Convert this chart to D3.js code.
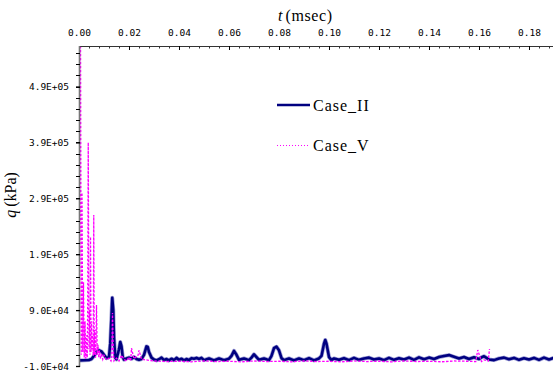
<!DOCTYPE html>
<html><head><meta charset="utf-8">
<script src="https://cdn.jsdelivr.net/npm/d3@7"></script>
<style>
html,body{margin:0;padding:0;background:#fff;}
svg{display:block;}
</style></head>
<body>
<svg id="c" width="553" height="374"></svg>
<script>
// ---- data (t in msec, q in kPa) ----
const tII = [0,0.002,0.004,0.005,0.006,0.007,0.008,0.009,0.010,0.011,0.012,0.0125,0.013,0.0133,0.0137,0.014,0.0145,0.015,0.016,0.0165,0.017,0.0175,0.018,0.019,0.020,0.021,0.022,0.023,0.024,0.025,0.026,0.027,0.0275,0.028,0.029,0.030,0.031,0.032,0.033,0.034,0.035,0.036,0.037,0.038,0.039,0.040,0.041,0.042,0.043,0.044,0.045,0.046,0.047,0.048,0.049,0.050,0.052,0.054,0.056,0.058,0.060,0.061,0.062,0.063,0.064,0.066,0.068,0.069,0.070,0.071,0.072,0.074,0.076,0.077,0.078,0.079,0.080,0.081,0.082,0.084,0.086,0.088,0.090,0.092,0.094,0.096,0.097,0.098,0.0985,0.099,0.100,0.101,0.102,0.104,0.106,0.108,0.110,0.112,0.114,0.116,0.118,0.120,0.122,0.124,0.126,0.128,0.130,0.132,0.134,0.136,0.138,0.140,0.142,0.144,0.146,0.148,0.150,0.152,0.154,0.156,0.158,0.160,0.161,0.162,0.163,0.164,0.166,0.168,0.170,0.172,0.174,0.176,0.178,0.180,0.182,0.184,0.186,0.188,0.190];
const qII = [0,300,800,2500,8000,15000,18000,16000,10000,4000,6000,30000,80000,112000,90000,40000,5000,2000,20000,33000,25000,6000,1500,3500,5000,3000,6000,2500,1000,2500,10000,25000,24000,15000,5000,1500,0,2000,5000,500,2500,0,3000,500,4500,1000,3000,0,2500,500,4000,3000,4500,2500,4500,500,3500,0,3500,500,3000,8000,17000,10000,1000,3500,500,5000,11000,6000,1000,3500,500,8000,22000,24500,18000,4000,500,3500,0,3500,500,4000,0,3500,8000,30000,36500,30000,6000,500,3500,1000,4000,500,4500,1000,3500,5000,1500,3500,500,4500,1000,4000,1500,5000,1000,5500,2000,5000,2500,6000,8000,9500,6500,3500,6000,2500,5500,2500,5500,7500,4500,1500,500,3500,5000,2000,4500,1000,4000,1500,4500,1000,5000,1500,4500,2500];

const tV = [0,0.0006,0.0009,0.0012,0.0015,0.0018,0.0021,0.0024,0.0027,0.0030,0.0033,0.0035,0.0037,0.0040,0.0042,0.0044,0.0046,0.0048,0.0050,0.0052,0.0054,0.0057,0.0059,0.0061,0.0063,0.0066,0.0068,0.0070,0.0073,0.0076,0.0079,0.0082,0.0086,0.0090,0.0095,0.0100,0.0110,0.0120,0.0128,0.0131,0.0134,0.0137,0.0140,0.0150,0.0160,0.0170,0.0180,0.0190,0.0200,0.0207,0.0210,0.0220,0.0236,0.0240,0.0250,0.030,0.035,0.040,0.045,0.050,0.055,0.060,0.065,0.070,0.075,0.080,0.085,0.090,0.095,0.100,0.105,0.110,0.115,0.120,0.125,0.130,0.135,0.140,0.145,0.150,0.155,0.1587,0.1595,0.1610,0.1620,0.1637,0.1642];
const qV = [0,600000,10000,300000,15000,140000,5000,70000,3000,45000,5000,110000,390000,20000,90000,10000,221000,15000,70000,20000,45000,8000,260000,10000,55000,5000,35000,99000,10000,28000,5000,18000,3000,12000,2000,9000,1000,4000,-1000,5000,85000,20000,-1000,4000,-1000,9000,2000,-1000,6000,-1000,22000,3000,9000,18000,2000,-1000,-2000,-1500,-2500,-1000,-2000,-1500,-2500,-1000,-2000,-1500,-2500,-1000,-2000,-1500,-2500,-1000,-2000,-1500,-2500,-1000,-2000,-1500,-2500,-1000,-1500,-2000,18500,-2000,1000,-1000,20400,-2000];

const xTicks = [0,0.02,0.04,0.06,0.08,0.10,0.12,0.14,0.16,0.18];
const xTickLabels = ["0.00","0.02","0.04","0.06","0.08","0.10","0.12","0.14","0.16","0.18"];
const yTicks = [-10000,90000,190000,290000,390000,490000];
const yTickLabels = ["-1.0E+04","9.0E+04","1.9E+05","2.9E+05","3.9E+05","4.9E+05"];
const seriesNames = ["Case_II","Case_V"];

// ---- drawing ----
const svg = d3.select("#c");
const L = 79, R = 553, T = 46, B = 366;
const x = d3.scaleLinear().domain([0, 0.1896]).range([L, R]);
const y = d3.scaleLinear().domain([-10000, 562500]).range([B, T]);

svg.append("defs").append("clipPath").attr("id","clip")
  .append("rect").attr("x",L).attr("y",T).attr("width",R-L).attr("height",B-T+4);

const g = svg.append("g").attr("clip-path","url(#clip)");
const lineII = d3.line().x((d,i)=>x(tII[i])).y(d=>y(d));
const lineV = d3.line().x((d,i)=>x(tV[i])).y(d=>y(d));

g.append("path").datum(qII).attr("d",lineII)
  .attr("fill","none").attr("stroke","#5a5ab8").attr("stroke-width",4).attr("stroke-linejoin","round").attr("opacity",0.6);
g.append("path").datum(qII).attr("d",lineII)
  .attr("fill","none").attr("stroke","#000080").attr("stroke-width",2.6).attr("stroke-linejoin","round");
g.append("path").datum(qV).attr("d",lineV)
  .attr("fill","none").attr("stroke","#ff00ff").attr("stroke-width",1.3).attr("stroke-dasharray","2.5,1.5");

// x axis at top, ticks inward
const xMinor = d3.range(0, 0.1896, 0.004);
svg.append("line").attr("x1",L).attr("x2",R).attr("y1",T+0.5).attr("y2",T+0.5).attr("stroke","#333").attr("stroke-width",1);
svg.selectAll(".xmin").data(xMinor).enter().append("line")
  .attr("x1",d=>Math.round(x(d))+0.5).attr("x2",d=>Math.round(x(d))+0.5).attr("y1",T).attr("y2",T+2.5)
  .attr("stroke","#333");
const xAxis = d3.axisTop(x).tickValues(xTicks).tickSize(-4).tickFormat((d,i)=>xTickLabels[i]);
const xa = svg.append("g").attr("transform",`translate(0,${T})`).call(xAxis);
xa.select(".domain").remove();
xa.selectAll("line").attr("stroke","#000");
xa.selectAll("text").attr("font-family","'DejaVu Sans Mono', monospace").attr("font-size",9.5).attr("fill","#000").attr("y",-10).attr("dy",0);

// y axis at left, ticks outward
const yMinor = d3.range(-10000, 562500, 20000);
svg.append("line").attr("x1",L+0.5).attr("x2",L+0.5).attr("y1",T).attr("y2",B+1).attr("stroke","#777").attr("stroke-width",1.6);
svg.selectAll(".ymin").data(yMinor).enter().append("line")
  .attr("x1",L-3).attr("x2",L+1).attr("y1",d=>Math.round(y(d))+0.5).attr("y2",d=>Math.round(y(d))+0.5)
  .attr("stroke","#000");
const yAxis = d3.axisLeft(y).tickValues(yTicks).tickSize(4).tickPadding(7).tickFormat((d,i)=>yTickLabels[i]);
const ya = svg.append("g").attr("transform",`translate(${L+1},0)`).call(yAxis);
ya.select(".domain").remove();
ya.selectAll("line").attr("stroke","#000").attr("stroke-width",1.3);
ya.selectAll("text").attr("font-family","'DejaVu Sans Mono', monospace").attr("font-size",9.5).attr("fill","#000");

// axis titles
const xt = svg.append("text").attr("x",278).attr("y",21).attr("font-family","'Liberation Serif', serif").attr("font-size",16).attr("fill","#000");
xt.append("tspan").attr("font-style","italic").text("t");
xt.append("tspan").attr("dx",3).attr("letter-spacing",0.6).text("(msec)");
const yt = svg.append("text").attr("transform","translate(16,195) rotate(-90)").attr("text-anchor","middle")
  .attr("font-family","'Liberation Serif', serif").attr("font-size",16).attr("fill","#000");
yt.append("tspan").attr("font-style","italic").text("q");
yt.append("tspan").attr("dx",3).text("(kPa)");

// legend
const leg = svg.append("g");
leg.append("line").attr("x1",277).attr("x2",310).attr("y1",105).attr("y2",105).attr("stroke","#000080").attr("stroke-width",2.6);
leg.append("line").attr("x1",277).attr("x2",310).attr("y1",145.5).attr("y2",145.5).attr("stroke","#ff00ff").attr("stroke-width",1).attr("stroke-dasharray","1,2");
leg.selectAll("text").data(seriesNames).enter().append("text")
  .attr("x",313).attr("y",(d,i)=>i===0?110.5:150.5)
  .attr("font-family","'Liberation Serif', serif").attr("font-size",16).attr("letter-spacing",1).attr("fill","#000")
  .text(d=>d);
</script>
</body></html>
